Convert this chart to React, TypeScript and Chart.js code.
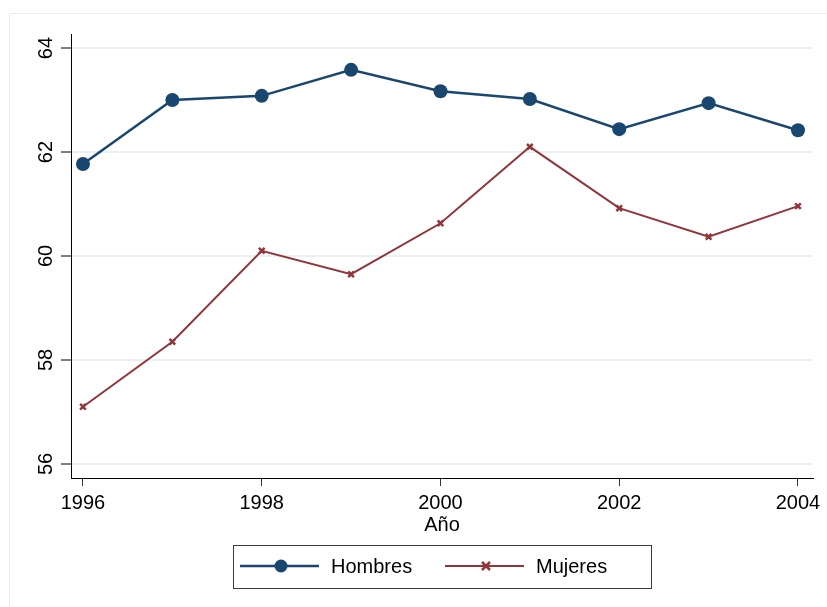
import React, { useEffect, useRef } from "react";
import { Chart, registerables } from "chart.js";

Chart.register(...registerables);

const years = [1996, 1997, 1998, 1999, 2000, 2001, 2002, 2003, 2004];
const hombres = [61.77, 63.0, 63.08, 63.58, 63.17, 63.02, 62.44, 62.94, 62.42];
const mujeres = [57.1, 58.35, 60.1, 59.65, 60.63, 62.1, 60.92, 60.37, 60.96];
const xTicks = [1996, 1998, 2000, 2002, 2004];
const yTicks = [56, 58, 60, 62, 64];
const seriesNames = ["Hombres", "Mujeres"];
const xTitle = "Año";

const BLUE = "#1a476f";
const RED = "#90353b";
const FONT = "'Liberation Sans', Arial, Helvetica, sans-serif";

const framePlugin = {
  id: "frame",
  beforeDraw(chart: any) {
    const ctx = chart.ctx;
    ctx.save();
    ctx.fillStyle = "#ffffff";
    ctx.fillRect(0, 0, chart.width, chart.height);
    ctx.strokeStyle = "#e8eeee";
    ctx.lineWidth = 1;
    ctx.strokeRect(9.5, 13.5, chart.width + 20, chart.height + 20);
    ctx.restore();
  },
};

const yLabelPlugin = {
  id: "yLabels",
  afterDraw(chart: any) {
    const ctx = chart.ctx;
    const y = chart.scales.y;
    ctx.save();
    ctx.fillStyle = "#000";
    ctx.font = `20px ${FONT}`;
    ctx.textAlign = "center";
    ctx.textBaseline = "middle";
    yTicks.forEach((v) => {
      const py = y.getPixelForValue(v);
      ctx.save();
      ctx.translate(46, py);
      ctx.rotate(-Math.PI / 2);
      ctx.fillText(String(v), 0, 0);
      ctx.restore();
    });
    ctx.restore();
  },
};

const legendPlugin = {
  id: "boxLegend",
  afterDraw(chart: any) {
    const ctx = chart.ctx;
    ctx.save();
    ctx.strokeStyle = "#3c3c3c";
    ctx.lineWidth = 1;
    ctx.strokeRect(233.5, 545.5, 418, 43);
    const cy = 566;
    ctx.strokeStyle = BLUE;
    ctx.lineWidth = 2.5;
    ctx.beginPath();
    ctx.moveTo(240, cy);
    ctx.lineTo(319, cy);
    ctx.stroke();
    ctx.fillStyle = BLUE;
    ctx.beginPath();
    ctx.arc(281, cy, 6.5, 0, Math.PI * 2);
    ctx.fill();
    ctx.strokeStyle = RED;
    ctx.lineWidth = 2;
    ctx.beginPath();
    ctx.moveTo(445, cy);
    ctx.lineTo(524, cy);
    ctx.stroke();
    ctx.lineWidth = 2.5;
    ctx.beginPath();
    ctx.moveTo(482, cy - 4);
    ctx.lineTo(490, cy + 4);
    ctx.moveTo(490, cy - 4);
    ctx.lineTo(482, cy + 4);
    ctx.stroke();
    ctx.fillStyle = "#000";
    ctx.font = `20px ${FONT}`;
    ctx.textAlign = "left";
    ctx.textBaseline = "middle";
    ctx.fillText(seriesNames[0], 331, cy + 1);
    ctx.fillText(seriesNames[1], 536, cy + 1);
    ctx.restore();
  },
};

export default function App() {
  const ref = useRef<HTMLCanvasElement | null>(null);
  useEffect(() => {
    document.body.style.margin = "0";
    if (!ref.current) return;
    const chart = new Chart(ref.current, {
      type: "line",
      data: {
        datasets: [
          {
            label: seriesNames[0],
            data: years.map((x, i) => ({ x, y: hombres[i] })),
            borderColor: BLUE,
            backgroundColor: BLUE,
            borderWidth: 2.5,
            pointRadius: 7,
            pointStyle: "circle",
            pointBorderWidth: 0,
            tension: 0,
          },
          {
            label: seriesNames[1],
            data: years.map((x, i) => ({ x, y: mujeres[i] })),
            borderColor: RED,
            backgroundColor: RED,
            borderWidth: 2,
            pointRadius: 4,
            pointStyle: "crossRot",
            pointBorderWidth: 2.5,
            tension: 0,
          },
        ],
      },
      options: {
        animation: false,
        responsive: false,
        devicePixelRatio: 1,
        layout: { padding: { top: 34, left: 0, right: 14, bottom: 70 } },
        plugins: {
          legend: { display: false },
          tooltip: { enabled: false },
        },
        scales: {
          x: {
            type: "linear",
            min: 1995.866,
            max: 2004.168,
            afterBuildTicks: (s: any) => {
              s.ticks = xTicks.map((v) => ({ value: v }));
            },
            afterFit: (s: any) => {
              s.height = 59;
            },
            grid: {
              drawOnChartArea: false,
              drawTicks: true,
              tickLength: 8,
              tickColor: "#333",
              tickWidth: 1,
            },
            border: { display: true, color: "#000", width: 1 },
            ticks: {
              color: "#000",
              font: { family: FONT, size: 20 },
              padding: 5,
              maxRotation: 0,
              autoSkip: false,
              callback: (v: any) => String(v),
            },
            title: {
              display: true,
              text: xTitle,
              color: "#000",
              font: { family: FONT, size: 20 },
              padding: 0,
            },
          },
          y: {
            type: "linear",
            min: 55.73,
            max: 64.27,
            afterBuildTicks: (s: any) => {
              s.ticks = yTicks.map((v) => ({ value: v }));
            },
            afterFit: (s: any) => {
              s.width = 71;
            },
            grid: {
              color: "#eaf1f2",
              lineWidth: 2,
              drawTicks: true,
              tickLength: 10,
              tickColor: "#000",
              tickWidth: 1,
            },
            border: { display: true, color: "#000", width: 1 },
            ticks: { display: false },
          },
        },
      },
      plugins: [framePlugin, yLabelPlugin, legendPlugin],
    } as any);
    return () => chart.destroy();
  }, []);
  return (
    <canvas
      ref={ref}
      width={827}
      height={607}
      style={{ display: "block", width: 827, height: 607 }}
    />
  );
}
